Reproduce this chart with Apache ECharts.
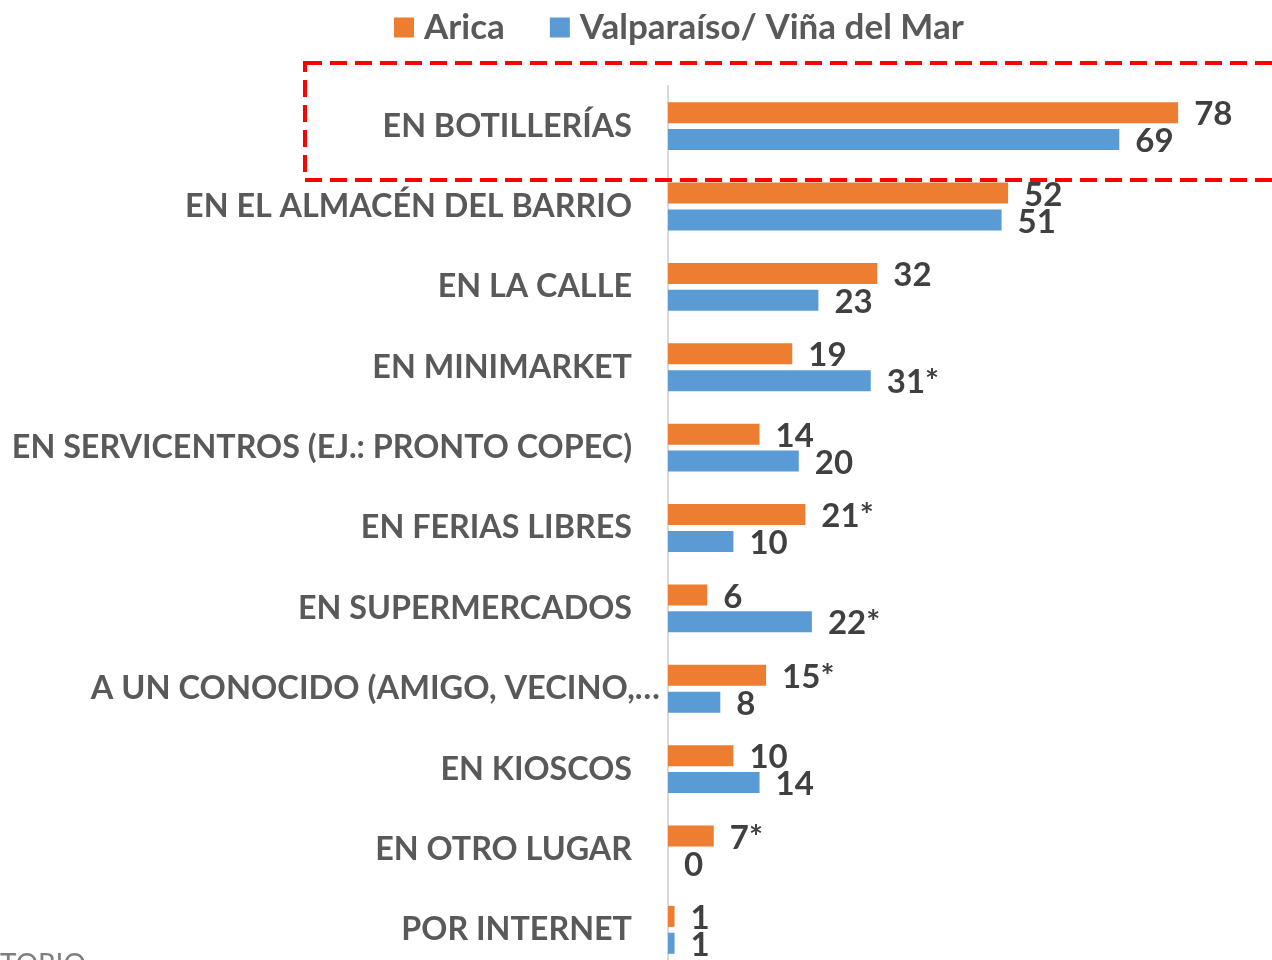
<!DOCTYPE html>
<html>
<head>
<meta charset="utf-8">
<script src="https://cdn.jsdelivr.net/npm/echarts@6/dist/echarts.min.js"></script>
<style>html,body{margin:0;padding:0;background:#fff}#c{width:1272px;height:960px}</style>
</head>
<body>
<div id="c"></div>
<script>
const categories = [
  "EN BOTILLERÍAS",
  "EN EL ALMACÉN DEL BARRIO",
  "EN LA CALLE",
  "EN MINIMARKET",
  "EN SERVICENTROS (EJ.: PRONTO COPEC)",
  "EN FERIAS LIBRES",
  "EN SUPERMERCADOS",
  "A UN CONOCIDO (AMIGO, VECINO,…",
  "EN KIOSCOS",
  "EN OTRO LUGAR",
  "POR INTERNET"
];
const seriesNames = ["Arica", "Valparaíso/ Viña del Mar"];
const aricaValues = [78, 52, 32, 19, 14, 21, 6, 15, 10, 7, 1];
const aricaMarks  = ["", "", "", "", "", "*", "", "*", "", "*", ""];
const valpoValues = [69, 51, 23, 31, 20, 10, 22, 8, 14, 0, 1];
const valpoMarks  = ["", "", "", "*", "", "", "*", "", "", "", ""];

const FONT = "Lato";
const chart = echarts.init(document.getElementById('c'));
const labelStyle = (marks) => ({
  show: true,
  position: 'right',
  distance: 16,
  offset: [0, 2],
  fontFamily: FONT,
  fontWeight: 'bold',
  fontSize: 33,
  color: '#404040',
  formatter: p => p.value + marks[p.dataIndex]
});
chart.setOption({
  animation: false,
  legend: {
    data: seriesNames,
    left: 389,
    top: 5,
    icon: 'rect',
    itemWidth: 20,
    itemHeight: 20,
    itemGap: 45,
    textStyle: {fontFamily: FONT, fontWeight: 'bold', fontSize: 35, color: '#595959', padding: [0, 0, 0, 5]}
  },
  grid: {left: 668, top: 86, width: 604, height: 884, outerBoundsMode: 'none', containLabel: false},
  xAxis: {
    type: 'value', min: 0, max: 92.35, show: false
  },
  yAxis: {
    type: 'category',
    data: categories,
    inverse: true,
    axisLine: {show: true, lineStyle: {color: '#d9d9d9', width: 2}},
    axisTick: {show: false},
    axisLabel: {
      margin: 8,
      fontFamily: FONT, fontWeight: 'bold', fontSize: 32.3, color: '#595959',
      formatter: (v) => v.endsWith('…') ? '{t|' + v + '}' : '{n|' + v + '}',
      rich: {
        t: {fontFamily: FONT, fontWeight: 'bold', fontSize: 32.6, color: '#595959'},
        n: {fontFamily: FONT, fontWeight: 'bold', fontSize: 32.3, color: '#595959', padding: [0, 28, 0, 0]}
      }
    }
  },
  series: [
    {
      name: seriesNames[0], type: 'bar', data: aricaValues,
      barWidth: 21, barGap: '28%',
      itemStyle: {color: '#ed7d31'},
      label: labelStyle(aricaMarks)
    },
    {
      name: seriesNames[1], type: 'bar', data: valpoValues,
      barWidth: 21,
      itemStyle: {color: '#5b9bd5'},
      label: labelStyle(valpoMarks)
    }
  ],
  graphic: [
    {
      type: 'rect', z: 100,
      shape: {x: 305, y: 63, width: 1100, height: 117},
      style: {fill: 'none', stroke: '#ff0000', lineWidth: 4, lineDash: [17, 8]}
    },
    {
      type: 'text', left: 0, top: 951,
      style: {text: 'TORIO', fontFamily: FONT, fontSize: 28, fill: '#7f7f7f'}
    }
  ]
});
</script>
</body>
</html>
